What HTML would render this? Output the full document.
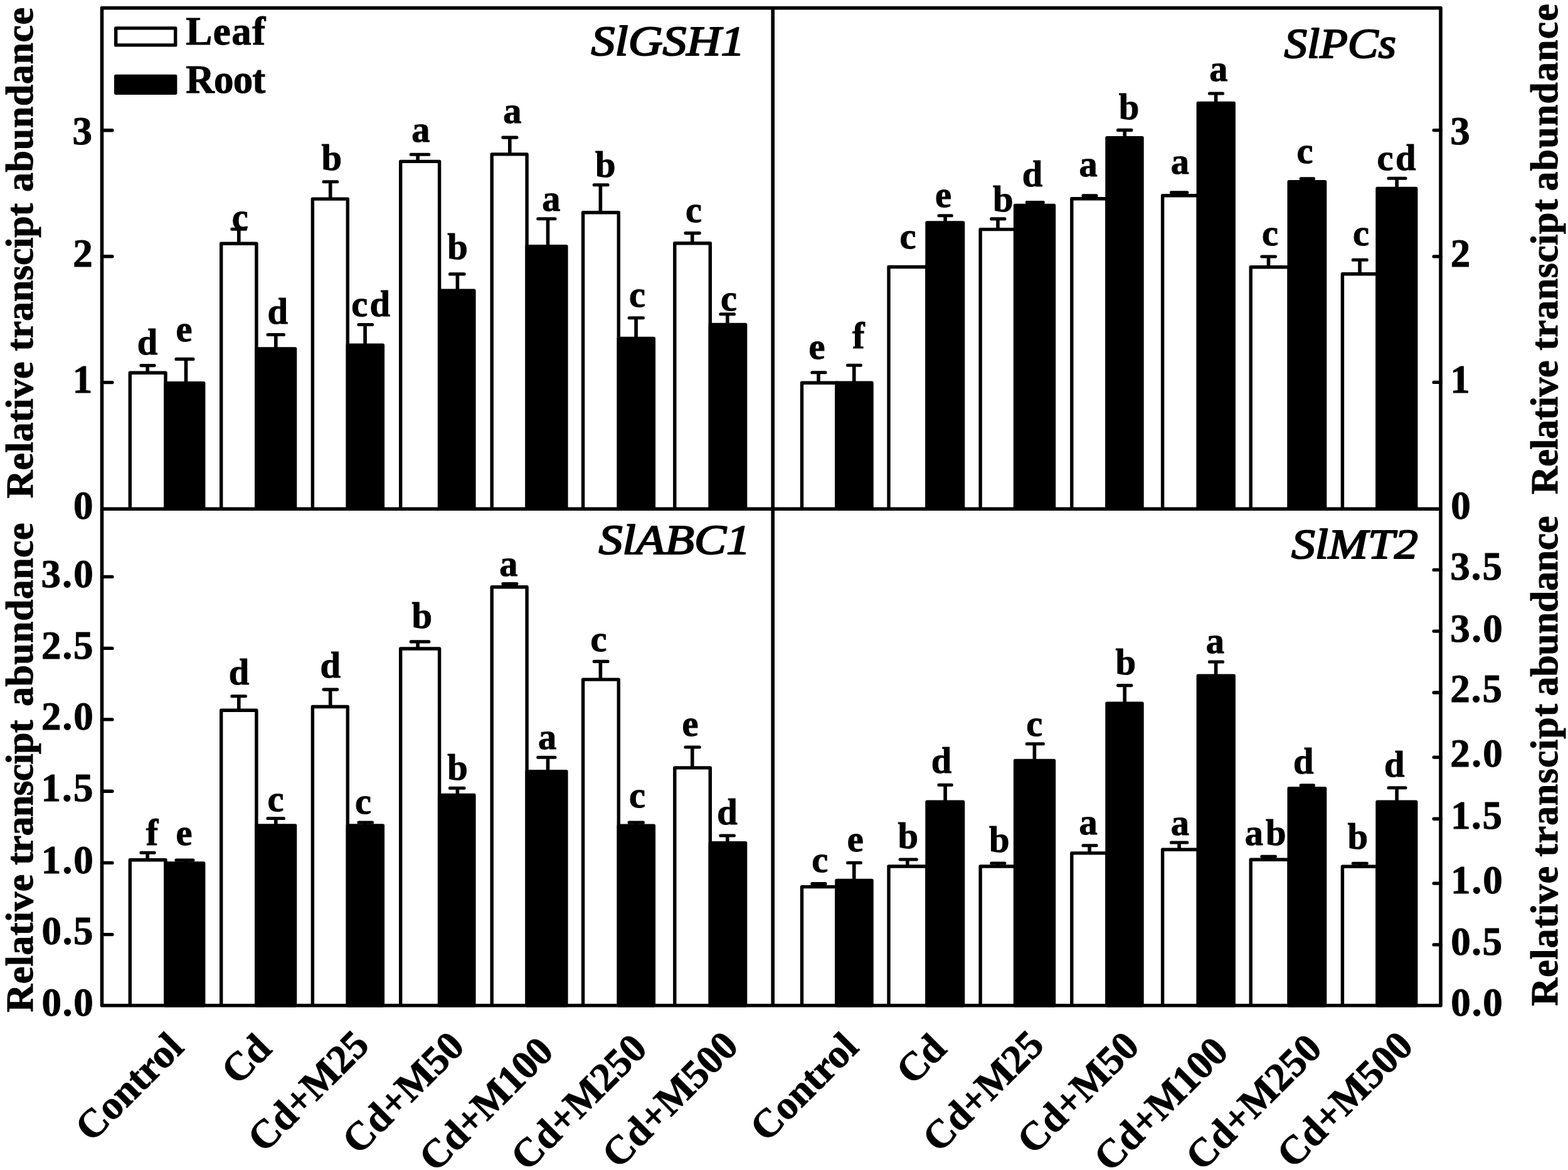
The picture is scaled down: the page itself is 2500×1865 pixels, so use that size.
<!DOCTYPE html>
<html lang="en"><head><meta charset="utf-8"><title>Relative transcript abundance</title>
<style>
html,body{margin:0;padding:0;background:#fff}
svg{display:block;font-family:"Liberation Serif",serif;font-weight:bold;fill:#000}
text{stroke:#000;stroke-width:1.0px;stroke-linejoin:round}
.lf{fill:#fff;stroke:#000;stroke-width:5.4;stroke-linejoin:round}
.rt{fill:#000;stroke:#000;stroke-width:5.4;stroke-linejoin:round}
.eb{fill:none;stroke:#000;stroke-width:5.6}
.ec{fill:none;stroke:#000;stroke-width:5.1;stroke-linecap:round}
.fr{fill:none;stroke:#000;stroke-width:5.6;stroke-linejoin:round}
.tk{fill:none;stroke:#000;stroke-width:5.4;stroke-linecap:round}
.lg{stroke:#000;stroke-width:5.4;stroke-linejoin:round}
.tl{font-size:63px}
.lt{font-size:58.5px}
.ti{font-size:68px;font-style:italic}
.ti text{stroke-width:2.2px;font-weight:normal}
.ax{font-size:62px}
.xl{font-size:64px}
</style></head>
<body>
<svg xmlns="http://www.w3.org/2000/svg" width="2500" height="1865" viewBox="0 0 2500 1865">
<rect x="0" y="0" width="2500" height="1865" fill="#fff" stroke="none"/>
<path class="lf" d="M207.3 811.2V594.2H264V811.2M352.7 811.2V388.3H408.9V811.2M498.4 811.2V317.1H554.3V811.2M638.7 811.2V257.4H700.6V811.2M784.2 811.2V245.9H840.1V811.2M929.6 811.2V338.7H986.3V811.2M1075.8 811.2V387.8H1132.3V811.2M1278.5 811.2V610.3H1333.9V811.2M1417 811.2V425.5H1478V811.2M1563.1 811.2V365.6H1618.6V811.2M1708.8 811.2V316.8H1765V811.2M1853.6 811.2V311.8H1910.3V811.2M1994.2 811.2V425.7H2055.2V811.2M2140.4 811.2V436.7H2196V811.2M207.3 1602.7V1370.8H264V1602.7M352.7 1602.7V1132.3H408.9V1602.7M498.4 1602.7V1126.5H554.3V1602.7M638.7 1602.7V1034H700.6V1602.7M784.2 1602.7V935.8H840.1V1602.7M929.6 1602.7V1083.1H986.3V1602.7M1075.8 1602.7V1223.9H1132.3V1602.7M1278.5 1602.7V1413.6H1333.9V1602.7M1417 1602.7V1381H1478V1602.7M1563.1 1602.7V1381H1618.6V1602.7M1708.8 1602.7V1359.9H1765V1602.7M1853.6 1602.7V1354.3H1910.3V1602.7M1994.2 1602.7V1370.3H2055.2V1602.7M2140.4 1602.7V1381.2H2196V1602.7"/>
<path class="rt" d="M264 811.2V610.7H324.7V811.2ZM408.9 811.2V556H470.6V811.2ZM554.3 811.2V550.2H610.4V811.2ZM700.6 811.2V463.3H755.9V811.2ZM840.1 811.2V392.8H902.9V811.2ZM986.3 811.2V539.5H1042.4V811.2ZM1132.3 811.2V517.4H1188.6V811.2ZM1333.9 811.2V610.3H1390V811.2ZM1478 811.2V354.9H1535.6V811.2ZM1618.6 811.2V327.4H1680.5V811.2ZM1765 811.2V219.8H1821V811.2ZM1910.3 811.2V164.4H1967.2V811.2ZM2055.2 811.2V289.7H2112.6V811.2ZM2196 811.2V300.5H2257.7V811.2ZM264 1602.7V1375.9H324.7V1602.7ZM408.9 1602.7V1315.9H470.6V1602.7ZM554.3 1602.7V1315.9H610.4V1602.7ZM700.6 1602.7V1267.5H755.9V1602.7ZM840.1 1602.7V1229.7H902.9V1602.7ZM986.3 1602.7V1316.1H1042.4V1602.7ZM1132.3 1602.7V1343.6H1188.6V1602.7ZM1333.9 1602.7V1403.4H1390V1602.7ZM1478 1602.7V1278.1H1535.6V1602.7ZM1618.6 1602.7V1212.5H1680.5V1602.7ZM1765 1602.7V1121.1H1821V1602.7ZM1910.3 1602.7V1077.3H1967.2V1602.7ZM2055.2 1602.7V1256.7H2112.6V1602.7ZM2196 1602.7V1278.1H2257.7V1602.7Z"/>
<path class="eb" d="M235.2 593.5V582.6M296.5 610V572.4M380.8 387.6V365.2M439.8 555.3V533.5M526.7 316.4V289.7M582.1 549.5V517.5M666.1 256.7V246.3M729.4 462.6V436.9M812.8 245.2V219.1M873.5 392.1V348.7M957.4 338V294.8M1014.1 538.8V506.8M1103.8 387.1V371.6M1159.8 516.7V500.7M1305 609.6V593.7M1361.7 609.6V582.2M1507.1 354.2V343.8M1591 364.9V348.9M1649.4 326.7V322.45M1737.1 316.1V311.85M1793.2 219.1V207.4M1880.1 311.1V306.85M1938.6 163.7V149M2022.5 425V409M2084.3 289V284.75M2168 436V414.2M2227.1 299.8V284.3M235.2 1370.1V1359.2M296.5 1375.2V1370.95M380.8 1131.6V1109.8M439.8 1315.2V1304.5M526.7 1125.8V1099.1M582.1 1315.2V1310.95M666.1 1033.3V1022.9M729.4 1266.8V1256.2M812.8 935.1V930.6M873.5 1229V1207.2M957.4 1082.4V1054.4M1014.1 1315.4V1311.15M1103.8 1223.2V1191M1159.8 1342.9V1332M1305 1412.9V1408.65M1361.7 1402.7V1375.3M1446.8 1380.3V1370M1507.1 1277.4V1251.2M1591 1380.3V1376.05M1649.4 1211.8V1185.7M1737.1 1359.2V1347.8M1793.2 1120.4V1092.6M1880.1 1353.6V1343M1938.6 1076.6V1055M2022.5 1369.6V1365.35M2084.3 1256V1251.75M2168 1380.5V1376.25M2227.1 1277.4V1255.8"/>
<path class="ec" d="M224.95 582.6H246.05M280.95 572.4H307.95M369.85 365.2H391.45M427.05 533.5H452.45M516.05 289.7H537.65M571.95 517.5H593.55M655.25 246.3H683.85M717.45 436.9H740.05M801.85 219.1H823.95M857.75 348.7H884.95M947.25 294.8H969.05M1003.15 506.8H1025.45M1092.95 371.6H1115.25M1148.85 500.7H1170.45M1294.85 593.7H1315.95M1351.55 582.2H1372.35M1496.95 343.8H1517.25M1580.75 348.9H1601.85M1637.25 322.45H1663.35M1726.95 311.85H1748.05M1782.55 207.4H1803.85M1867.45 306.85H1892.85M1928.45 149H1949.55M2011.85 409H2033.45M2074.15 284.75H2094.45M2157.25 414.2H2179.25M2214.05 284.3H2240.95M224.95 1359.2H246.05M280.95 1370.95H307.95M369.85 1109.8H391.45M427.05 1304.5H452.45M516.05 1099.1H537.65M571.95 1310.95H593.55M655.25 1022.9H683.85M717.45 1256.2H740.05M801.85 930.6H823.95M857.75 1207.2H884.95M947.25 1054.4H969.05M1003.15 1311.15H1025.45M1092.95 1191H1115.25M1148.85 1332H1170.45M1294.85 1408.65H1315.95M1351.55 1375.3H1372.35M1435.15 1370H1461.35M1496.95 1251.2H1517.25M1580.75 1376.05H1601.85M1637.25 1185.7H1663.35M1726.95 1347.8H1748.05M1782.55 1092.6H1803.85M1867.45 1343H1892.85M1928.45 1055H1949.55M2011.85 1365.35H2033.45M2074.15 1251.75H2094.45M2157.25 1376.25H2179.25M2214.05 1255.8H2240.95"/>
<path class="fr" d="M162.5 12.8H2297V1602.7H162.5ZM162.5 811.2H2297M1232.2 12.8V1602.7"/>
<path class="tk" d="M162.5 207.8H178.9M162.5 408.8H178.9M162.5 609.6H178.9M162.5 919.4H178.9M162.5 1033.4H178.9M162.5 1146.9H178.9M162.5 1261.2H178.9M162.5 1375.4H178.9M162.5 1489.6H178.9M2297 207.6H2286.1M2297 408.9H2286.1M2297 609.4H2286.1M2297 908.4H2286.1M2297 1006.1H2286.1M2297 1104H2286.1M2297 1207.1H2286.1M2297 1305.2H2286.1M2297 1408.1H2286.1M2297 1505.9H2286.1"/>
<rect class="lg" x="184.7" y="44.9" width="95" height="27" fill="#fff"/>
<rect class="lg" x="184.7" y="121.4" width="95" height="26.8" fill="#000"/>
<g class="tl">
<text x="115.5" y="230">3</text>
<text x="116.15" y="425.3">2</text>
<text x="115.8" y="626.3">1</text>
<text x="117" y="826.8">0</text>
<text x="65.5" y="935.5" style="letter-spacing:2.3px">3.0</text>
<text x="66.1" y="1049.5" style="letter-spacing:1.8px">2.5</text>
<text x="66.1" y="1163.4" style="letter-spacing:2px">2.0</text>
<text x="65.4" y="1276.9" style="letter-spacing:2.15px">1.5</text>
<text x="65.8" y="1391.7" style="letter-spacing:2.15px">1.0</text>
<text x="66.6" y="1505.1" style="letter-spacing:1.55px">0.5</text>
<text x="66.6" y="1618.6" style="letter-spacing:1.75px">0.0</text>
<text x="2312.35" y="229.6">3</text>
<text x="2312.85" y="425.3">2</text>
<text x="2312.25" y="626.3">1</text>
<text x="2313.25" y="826.8">0</text>
<text x="2312.3" y="924.3" style="letter-spacing:1.95px">3.5</text>
<text x="2312.3" y="1022.7" style="letter-spacing:2.4px">3.0</text>
<text x="2312.3" y="1119.3" style="letter-spacing:1.95px">2.5</text>
<text x="2312.3" y="1222.4" style="letter-spacing:2.4px">2.0</text>
<text x="2312.9" y="1320.5" style="letter-spacing:1.65px">1.5</text>
<text x="2312.9" y="1424" style="letter-spacing:2.1px">1.0</text>
<text x="2313.2" y="1521.5" style="letter-spacing:1.5px">0.5</text>
<text x="2313.2" y="1618.6" style="letter-spacing:1.95px">0.0</text>
</g>
<g class="lt">
<text x="218.8" y="565">d</text>
<text x="280.45" y="544.2">e</text>
<text x="369.8" y="364.6">c</text>
<text x="426.6" y="516">d</text>
<text x="512.6" y="271.4">b</text>
<text x="560.3" y="504" style="letter-spacing:3.2px">cd</text>
<text x="656.35" y="225.8">a</text>
<text x="713.3" y="412.5">b</text>
<text x="802.35" y="196.3">a</text>
<text x="864.15" y="336.3">a</text>
<text x="949.05" y="282.4">b</text>
<text x="1003.1" y="488.8">c</text>
<text x="1092.9" y="353.6">c</text>
<text x="1149.05" y="495.1">c</text>
<text x="1289.45" y="572.3">e</text>
<text x="1359.05" y="555">f</text>
<text x="1434.6" y="395.7">c</text>
<text x="1491" y="330.3">e</text>
<text x="1583.1" y="337.2">b</text>
<text x="1629.85" y="296.5">d</text>
<text x="1720.6" y="281.3">a</text>
<text x="1783.7" y="189.9">b</text>
<text x="1866.8" y="277.1">a</text>
<text x="1928.2" y="128.9">a</text>
<text x="2012.05" y="390.7">c</text>
<text x="2067.6" y="259.8">c</text>
<text x="2157.1" y="391.2">c</text>
<text x="2195.4" y="271.2" style="letter-spacing:3.7px">cd</text>
<text x="232.65" y="1347">f</text>
<text x="280.6" y="1346.7">e</text>
<text x="364.7" y="1090.5">d</text>
<text x="426.55" y="1293.1">c</text>
<text x="510.5" y="1080.3">d</text>
<text x="566.1" y="1296.9">c</text>
<text x="656.4" y="1000.5">b</text>
<text x="713.15" y="1242.5">b</text>
<text x="796.25" y="917.6">a</text>
<text x="858" y="1194">a</text>
<text x="941.4" y="1037.6">c</text>
<text x="1003.1" y="1286.5">c</text>
<text x="1087.4" y="1173.3">e</text>
<text x="1143.25" y="1314">d</text>
<text x="1294.25" y="1389.5">c</text>
<text x="1350.7" y="1357">e</text>
<text x="1431.45" y="1352.4">b</text>
<text x="1484.7" y="1231.9">d</text>
<text x="1577.1" y="1357.8">b</text>
<text x="1636.3" y="1172.7">c</text>
<text x="1720.6" y="1329.8">a</text>
<text x="1778.6" y="1075.1">b</text>
<text x="1866.8" y="1330.5">a</text>
<text x="1922.85" y="1041.3">a</text>
<text x="1984.65" y="1346.8" style="letter-spacing:4px">ab</text>
<text x="2062.05" y="1233.2">d</text>
<text x="2148.45" y="1352.7">b</text>
<text x="2207.05" y="1238.3">d</text>
</g>
<g class="ti">
<text transform="translate(942.6,88) scale(1.1169,1)">SlGSH1</text>
<text transform="translate(2047.4,91.5) scale(1.0739,1)">SlPCs</text>
<text transform="translate(954.4,882.8) scale(1.1225,1)">SlABC1</text>
<text transform="translate(2058.9,889.6) scale(1.1138,1)">SlMT2</text>
</g>
<g class="tl">
<text x="296.2" y="71.2" style="letter-spacing:1.53px">Leaf</text>
<text x="296.2" y="147.7" style="letter-spacing:-0.77px">Root</text>
</g>
<g class="ax">
<text transform="translate(51.7,0) rotate(-90)" y="0"><tspan x="-794.3" style="letter-spacing:0.14px">Relative</tspan> <tspan x="-559.7" style="letter-spacing:-0.24px">transcipt</tspan> <tspan x="-306" style="letter-spacing:0.58px">abundance</tspan></text>
<text transform="translate(51.7,0) rotate(-90)" y="0"><tspan x="-1613.4" style="letter-spacing:0.41px">Relative</tspan> <tspan x="-1379" style="letter-spacing:-0.78px">transcipt</tspan> <tspan x="-1126" style="letter-spacing:0.38px">abundance</tspan></text>
<text transform="translate(2483.1,0) rotate(-90)" y="0"><tspan x="-788" style="letter-spacing:-0.49px">Relative</tspan> <tspan x="-558.8" style="letter-spacing:0.47px">transcipt</tspan> <tspan x="-304.6" style="letter-spacing:1.12px">abundance</tspan></text>
<text transform="translate(2483.1,0) rotate(-90)" y="0"><tspan x="-1603.4" style="letter-spacing:0.8px">Relative</tspan> <tspan x="-1365.8" style="letter-spacing:0.79px">transcipt</tspan> <tspan x="-1109.5" style="letter-spacing:-0.31px">abundance</tspan></text>
</g>
<g class="xl">
<text transform="translate(146,1822.2) rotate(-45)" style="letter-spacing:-0.08px">Control</text>
<text transform="translate(379,1731.6) rotate(-45)" style="letter-spacing:-1.5px">Cd</text>
<text transform="translate(421,1839.3) rotate(-45)" style="letter-spacing:-0.34px">Cd+M25</text>
<text transform="translate(571.7,1842.5) rotate(-45)" style="letter-spacing:0.03px">Cd+M50</text>
<text transform="translate(694.3,1870.3) rotate(-45)" style="letter-spacing:-0.76px">Cd+M100</text>
<text transform="translate(840.5,1868.8) rotate(-45)" style="letter-spacing:-0.02px">Cd+M250</text>
<text transform="translate(985.9,1864.7) rotate(-45)" style="letter-spacing:0.02px">Cd+M500</text>
<text transform="translate(1222,1822.2) rotate(-45)" style="letter-spacing:-0.08px">Control</text>
<text transform="translate(1455,1731.6) rotate(-45)" style="letter-spacing:-1.5px">Cd</text>
<text transform="translate(1497,1839.3) rotate(-45)" style="letter-spacing:-0.34px">Cd+M25</text>
<text transform="translate(1647.7,1842.5) rotate(-45)" style="letter-spacing:0.03px">Cd+M50</text>
<text transform="translate(1770.3,1870.3) rotate(-45)" style="letter-spacing:-0.76px">Cd+M100</text>
<text transform="translate(1916.5,1868.8) rotate(-45)" style="letter-spacing:-0.02px">Cd+M250</text>
<text transform="translate(2061.9,1864.7) rotate(-45)" style="letter-spacing:0.02px">Cd+M500</text>
</g>
</svg>
</body></html>
